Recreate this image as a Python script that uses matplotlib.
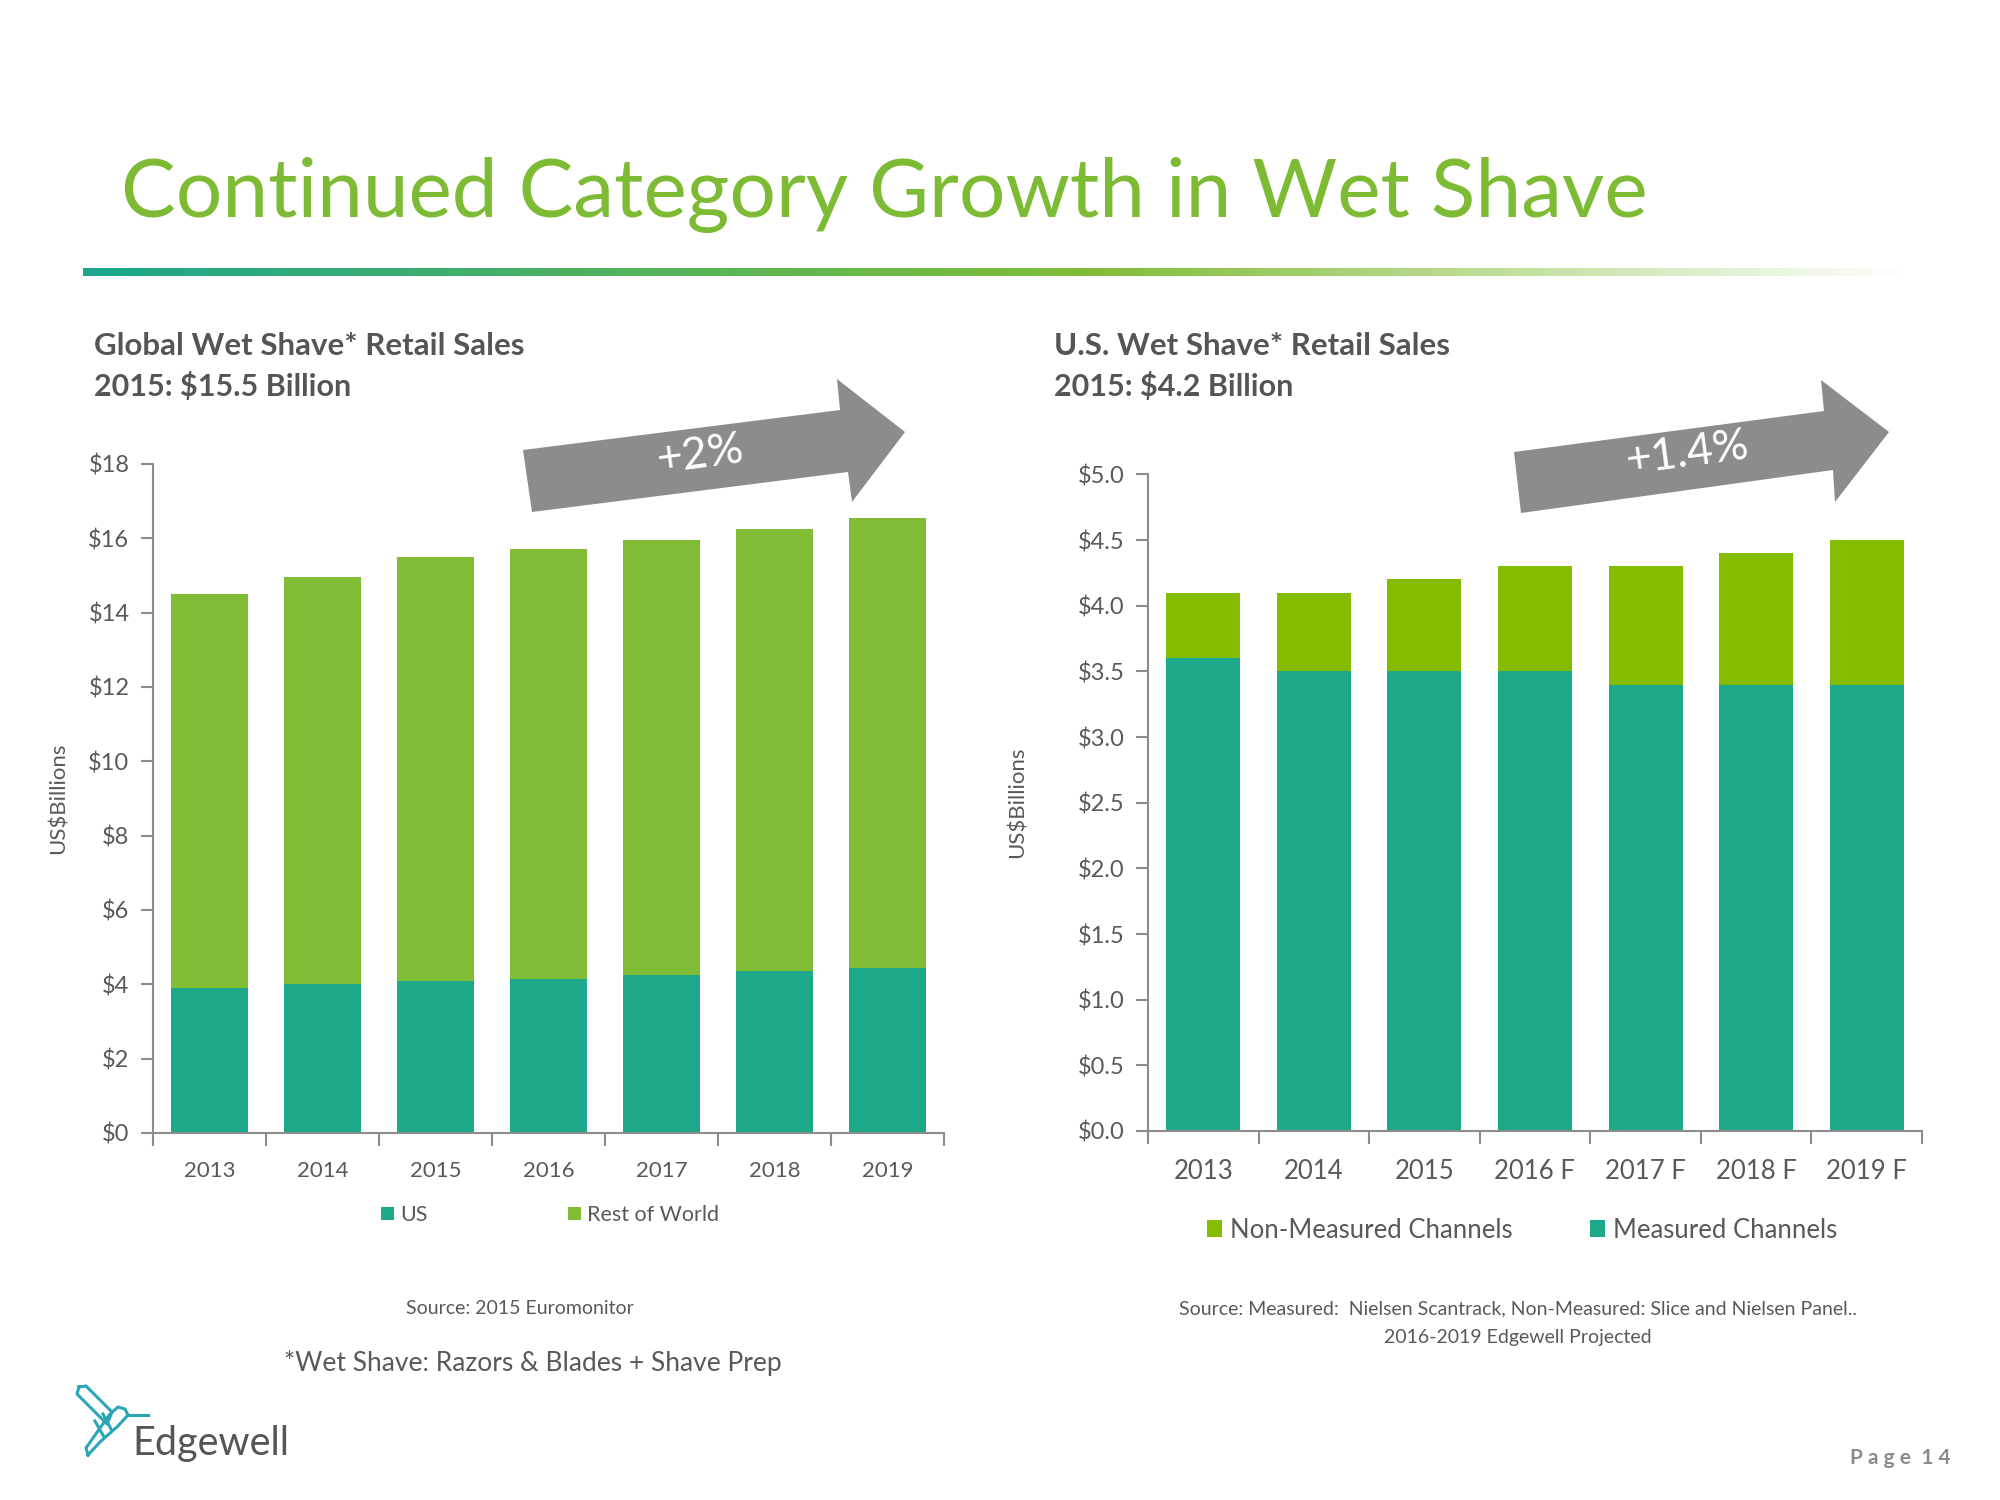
import numpy as np
import matplotlib.pyplot as plt
from matplotlib.colors import LinearSegmentedColormap
from matplotlib.patches import Polygon

plt.rcParams['font.family'] = ['Lato', 'DejaVu Sans']

# data
years = ['2013', '2014', '2015', '2016', '2017', '2018', '2019']
us = [3.9, 4.0, 4.1, 4.15, 4.25, 4.35, 4.45]
row = [10.6, 10.95, 11.4, 11.55, 11.7, 11.9, 12.1]
years_f = ['2013', '2014', '2015', '2016 F', '2017 F', '2018 F', '2019 F']
measured = [3.6, 3.5, 3.5, 3.5, 3.4, 3.4, 3.4]
non_measured = [0.5, 0.6, 0.7, 0.8, 0.9, 1.0, 1.1]
left_ticks = [0, 2, 4, 6, 8, 10, 12, 14, 16, 18]
right_ticks = [0.0, 0.5, 1.0, 1.5, 2.0, 2.5, 3.0, 3.5, 4.0, 4.5, 5.0]

teal = '#1EA88A'
green_l = '#80BD35'
green_r = '#84BC00'
grey_txt = '#595959'
spine_c = '#8C8C8C'

fig = plt.figure(figsize=(20, 15), dpi=100)

# background overlay in pixel coordinates
bg = fig.add_axes([0, 0, 1, 1])
bg.set_xlim(0, 2000)
bg.set_ylim(1500, 0)
bg.axis('off')

bg.text(121, 217, 'Continued Category Growth in Wet Shave', fontsize=59,
        color='#7DBB35', ha='left', va='baseline')

# gradient rule under the title
cmap = LinearSegmentedColormap.from_list(
    'rule', [(0.0, (0.11, 0.65, 0.55, 1)), (0.55, (0.50, 0.74, 0.21, 1)),
             (1.0, (0.50, 0.74, 0.21, 0))])
grad = np.linspace(0, 1, 512).reshape(1, -1)
bg.imshow(grad, cmap=cmap, aspect='auto', extent=[83, 1913, 276, 268],
          interpolation='bilinear')

for x, t1, t2 in [(94, 'Global Wet Shave* Retail Sales', '2015: $15.5 Billion'),
                  (1054, 'U.S. Wet Shave* Retail Sales', '2015: $4.2 Billion')]:
    bg.text(x, 346, t1, fontsize=22.5, fontweight='bold', color='#555555', va='center')
    bg.text(x, 387, t2, fontsize=22, fontweight='bold', color='#555555', va='center')

# growth arrows
arrows = [
    ([(523, 450), (840, 410), (837, 379), (905, 432), (852, 502), (848, 472), (532, 512)],
     '+2%', (700, 455)),
    ([(1514, 452), (1824, 411), (1821, 380), (1889, 432), (1835, 502), (1833, 470), (1521, 513)],
     '+1.4%', (1688, 454)),
]
for pts, lab, pos in arrows:
    bg.add_patch(Polygon(pts, closed=True, color='#8C8C8C', lw=0))
    bg.text(pos[0], pos[1], lab, fontsize=32, color='white', rotation=7.5,
            ha='center', va='center')

# footer texts
bg.text(520, 1309, 'Source: 2015 Euromonitor', fontsize=14, color=grey_txt,
        ha='center', va='center')
bg.text(533, 1363, '*Wet Shave: Razors & Blades + Shave Prep', fontsize=19,
        color=grey_txt, ha='center', va='center')
bg.text(1518, 1309, 'Source: Measured:  Nielsen Scantrack, Non-Measured: Slice and Nielsen Panel..',
        fontsize=14, color=grey_txt, ha='center', va='center')
bg.text(1518, 1337, '2016-2019 Edgewell Projected', fontsize=14, color=grey_txt,
        ha='center', va='center')
bg.text(1951, 1458, 'P a g e  1 4', fontsize=15, fontweight='bold', color='#8A8A8A',
        ha='right', va='center')

# logo
bg.text(132, 1455, 'Edgewell', fontsize=28.5, color='#555555', ha='left', va='baseline')
bird = [[(79, 1387), (86, 1386), (112, 1412), (107, 1424), (77, 1394), (79, 1387)],
        [(88, 1455), (86, 1448), (100, 1428), (110, 1414), (118, 1407), (125, 1409),
         (128, 1415), (118, 1426), (100, 1442), (88, 1455)],
        [(127, 1415), (148, 1415)],
        [(95, 1421), (104, 1437)],
        [(103, 1414), (111, 1429)]]
for seg in bird:
    xs, ys = zip(*seg)
    bg.plot(xs, ys, color='#2BA6B8', lw=2.2, solid_joinstyle='round')


def style_axes(ax, ticks, fmt, labels, lab_size):
    x = np.arange(len(labels))
    ax.set_xlim(-0.5, len(labels) - 0.5)
    ax.set_ylim(ticks[0], ticks[-1])
    ax.set_yticks(ticks)
    ax.set_yticklabels([fmt.format(t) for t in ticks])
    ax.set_xticks(x)
    ax.set_xticklabels(labels)
    ax.set_xticks(np.arange(-0.5, len(labels)), minor=True)
    ax.tick_params(axis='x', which='major', length=0, pad=20,
                   labelsize=lab_size, labelcolor=grey_txt)
    ax.tick_params(axis='x', which='minor', length=9, width=1.5, color=spine_c)
    ax.tick_params(axis='y', length=9, width=1.5, color=spine_c, pad=8,
                   labelsize=17, labelcolor=grey_txt)
    for s in ['top', 'right']:
        ax.spines[s].set_visible(False)
    for s in ['left', 'bottom']:
        ax.spines[s].set_color(spine_c)
        ax.spines[s].set_linewidth(1.5)
    ax.set_ylabel('US$Billions', fontsize=16, color=grey_txt)
    ax.patch.set_alpha(0)


# left chart
ax1 = fig.add_axes([0.0765, 0.2447, 0.3955, 0.446])
x = np.arange(len(years))
b1 = ax1.bar(x, us, width=0.68, color=teal, label='US')
b2 = ax1.bar(x, row, width=0.68, bottom=us, color=green_l, label='Rest of World')
style_axes(ax1, left_ticks, '${:g}', years, 16)
ax1.yaxis.set_label_coords(-0.107, 0.5)
ax1.legend(handles=[b1, b2], loc='center', bbox_to_anchor=(0.275, 0.19),
           bbox_transform=fig.transFigure, ncol=2, frameon=False, fontsize=15.5,
           handlelength=0.6, handleheight=0.6, handletextpad=0.3,
           columnspacing=6.5, labelcolor=grey_txt)

# right chart
ax2 = fig.add_axes([0.574, 0.246, 0.387, 0.4377])
x = np.arange(len(years_f))
c1 = ax2.bar(x, measured, width=0.67, color=teal, label='Measured Channels')
c2 = ax2.bar(x, non_measured, width=0.67, bottom=measured, color=green_r,
             label='Non-Measured Channels')
style_axes(ax2, right_ticks, '${:.1f}', years_f, 18.5)
ax2.yaxis.set_label_coords(-0.155, 0.5)
ax2.legend(handles=[c2, c1], loc='center', bbox_to_anchor=(0.761, 0.18),
           bbox_transform=fig.transFigure, ncol=2, frameon=False, fontsize=18.5,
           handlelength=0.6, handleheight=0.6, handletextpad=0.3,
           columnspacing=3.0, labelcolor=grey_txt)

fig.savefig('out.png', dpi=100)
